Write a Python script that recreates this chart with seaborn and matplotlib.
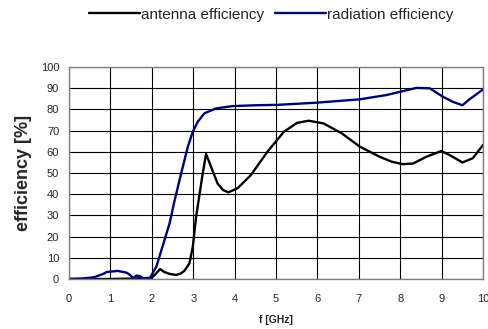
import numpy as np
import pandas as pd
import matplotlib
matplotlib.use("Agg")
import matplotlib.pyplot as plt
import seaborn as sns

# antenna efficiency (black curve)
f_ant = [0, 0.5, 1.0, 1.5, 1.8, 2.0, 2.1, 2.2, 2.3, 2.43, 2.59, 2.7, 2.79, 2.91, 2.99, 3.07, 3.13,
         3.23, 3.31, 3.43, 3.59, 3.72, 3.85, 4.07, 4.39, 4.79, 5.19, 5.51, 5.79, 6.15, 6.59,
         7.02, 7.5, 7.8, 8.06, 8.31, 8.63, 8.99, 9.19, 9.5, 9.75, 10.0]
eff_ant = [0, 0, 0, 0.2, 0.4, 0.6, 2.5, 4.7, 3.3, 2.4, 1.9, 2.6, 3.9, 7.4, 15.2, 29.4, 37,
           49.9, 59, 53, 45, 42, 40.9, 42.8, 49, 60, 69.5, 73.7, 74.7, 73.4, 68.7,
           62.5, 57.7, 55.3, 54.2, 54.5, 57.7, 60.4, 58.5, 55, 57, 63.3]

# radiation efficiency (blue curve)
f_rad = [0, 0.3, 0.6, 0.83, 0.91, 1.18, 1.39, 1.47, 1.55, 1.63, 1.71, 1.8, 1.95, 2.11, 2.27,
         2.43, 2.55, 2.71, 2.87, 2.99, 3.11, 3.27, 3.55, 3.95, 4.51, 5.05, 5.97, 7.02, 7.66,
         8.07, 8.39, 8.71, 9.03, 9.27, 9.5, 9.67, 10.0]
eff_rad = [0, 0.2, 0.8, 2.4, 3.3, 3.8, 3.0, 2.0, 0.5, 1.6, 1.4, 0.3, 0.3, 5.8, 16,
           26.3, 37, 49.9, 62.4, 69.5, 74.2, 78.2, 80.5, 81.6, 82, 82.2, 83.2, 84.8, 86.8,
           88.7, 90.2, 90, 86, 83.6, 82, 84.8, 89.5]

sns.set_style("white")
plt.rcParams['font.family'] = ['Liberation Sans', 'DejaVu Sans']

fig = plt.figure(figsize=(4.89, 3.29), dpi=100)
ax = fig.add_axes([0.141, 0.152, 0.847, 0.644])

df_ant = pd.DataFrame({"f": f_ant, "eff": eff_ant})
df_rad = pd.DataFrame({"f": f_rad, "eff": eff_rad})
sns.lineplot(data=df_ant, x="f", y="eff", color="black", linewidth=1.7, ax=ax, label="antenna efficiency")
sns.lineplot(data=df_rad, x="f", y="eff", color="#000080", linewidth=1.7, ax=ax, label="radiation efficiency")

ax.set_xlim(0, 10)
ax.set_ylim(0, 100)
ax.set_xticks(range(0, 11))
ax.set_yticks(range(0, 101, 10))
ax.grid(True, color="black", linewidth=0.8)
ax.set_axisbelow(True)
for s in ax.spines.values():
    s.set_color("#808080")
    s.set_linewidth(1)
ax.tick_params(direction="out", length=4, width=0.8, labelsize=8, color="#555555", pad=3)
ax.tick_params(axis="x", pad=7)
ax.set_xlabel("f [GHz]", fontsize=7.5, fontweight="bold", labelpad=8)
ax.set_ylabel("efficiency [%]", fontsize=13, fontweight="bold", labelpad=6)

ax.legend(loc="center", bbox_to_anchor=(0.555, 0.955), bbox_transform=fig.transFigure, ncol=2,
          frameon=False, fontsize=11, handlelength=3.3, handletextpad=0.1, columnspacing=0.7)

plt.savefig("out.png", dpi=100)
